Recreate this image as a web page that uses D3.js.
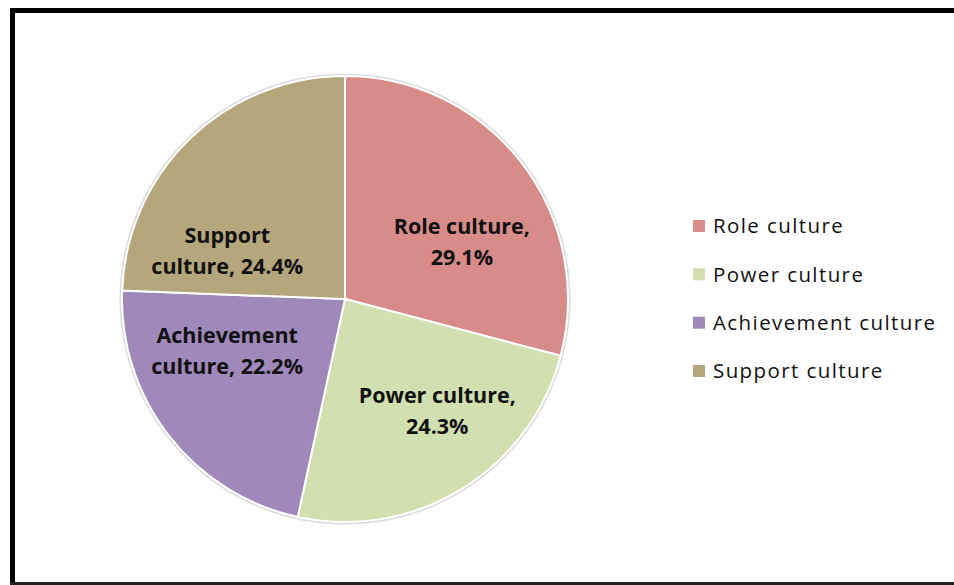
<!DOCTYPE html>
<html>
<head>
<meta charset="utf-8">
<script src="https://cdn.jsdelivr.net/npm/d3@7"></script>
<style>
  html, body { margin: 0; background: #fff; overflow: hidden; }
  svg { display: block; }
</style>
</head>
<body>
<svg id="chart" width="954" height="585"></svg>
<script>
const categories = ["Role culture", "Power culture", "Achievement culture", "Support culture"];
const values = [29.1, 24.3, 22.2, 24.4];
const labelLines = [["Role culture,", "29.1%"], ["Power culture,", "24.3%"], ["Achievement", "culture, 22.2%"], ["Support", "culture, 24.4%"]];
const colors = ["#d88c8a", "#d2dfae", "#9f88ba", "#b4a77b"];

// where Excel's "best fit" put each data label: angle from 12 o'clock (deg), distance from centre
const labelPlace = [[64, 130], [140.5, 145], [246, 129], [292, 127]];

const width = 954;
const height = 585;
const cx = 345, cy = 299, radius = 223;

const svg = d3.select("#chart");

// outer frame: top, left and bottom only (right side is cut off in the original)
const frame = svg.append("g").attr("stroke", "#000").attr("fill", "none");
frame.append("path")
    .attr("d", "M" + width + ",10.5 H12.5 V583.5")
    .attr("stroke-width", 5);
frame.append("line")
    .attr("x1", 10).attr("x2", width)
    .attr("y1", 583.5).attr("y2", 583.5)
    .attr("stroke", "#222")
    .attr("stroke-width", 3);

const color = d3.scaleOrdinal().domain(categories).range(colors);

const pie = d3.pie().sort(null).value(function(d, i) { return values[i]; });
const arcs = pie(categories);

const arc = d3.arc().innerRadius(0).outerRadius(radius);

const g = svg.append("g").attr("transform", "translate(" + cx + "," + cy + ")");

// faint shadow
g.append("circle")
    .attr("r", radius + 1.5)
    .attr("fill", "none")
    .attr("stroke", "#ddd")
    .attr("stroke-width", 2);

g.selectAll("path")
  .data(arcs)
  .join("path")
    .attr("d", arc)
    .attr("fill", function(d) { return color(d.data); })
    .attr("stroke", "#fff")
    .attr("stroke-width", 2);

const labels = g.selectAll("text.lbl")
  .data(arcs)
  .join("text")
    .attr("class", "lbl")
    .attr("transform", function(d) {
      const p = labelPlace[d.index];
      const a = p[0] * Math.PI / 180;
      return "translate(" + (Math.sin(a) * p[1]) + "," + (-Math.cos(a) * p[1]) + ")";
    })
    .attr("text-anchor", "middle")
    .attr("font-family", "'Open Sans', sans-serif")
    .attr("font-weight", "bold")
    .attr("font-size", 21.5)
    .attr("fill", "#111");

labels.selectAll("tspan")
  .data(function(d) { return labelLines[d.index].map(function(t, j) { return {t: t, j: j}; }); })
  .join("tspan")
    .attr("x", 0)
    .attr("y", function(d) { return d.j === 0 ? -8 : 23; })
    .text(function(d) { return d.t; });

// legend
const legendY = d3.scalePoint().domain(categories).range([226, 371]);
const legend = svg.append("g").attr("class", "legend");

legend.selectAll("rect")
  .data(categories)
  .join("rect")
    .attr("x", 693)
    .attr("y", function(d) { return legendY(d) - 6; })
    .attr("width", 12)
    .attr("height", 12)
    .attr("fill", function(d) { return color(d); });

legend.selectAll("text")
  .data(categories)
  .join("text")
    .attr("x", 713)
    .attr("y", function(d) { return legendY(d); })
    .attr("dy", "0.35em")
    .attr("font-family", "'Open Sans', sans-serif")
    .attr("font-size", 20.5)
    .attr("letter-spacing", 1.4)
    .attr("fill", "#111")
    .text(function(d) { return d; });
</script>
</body>
</html>
